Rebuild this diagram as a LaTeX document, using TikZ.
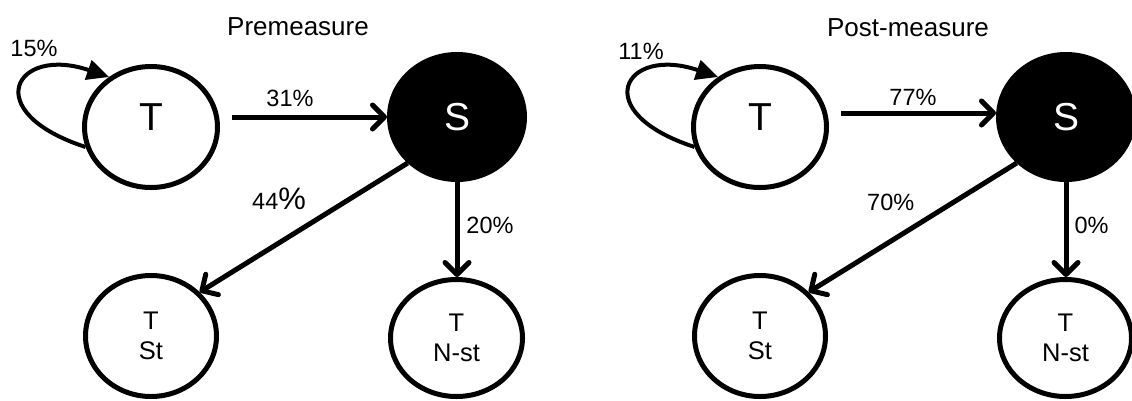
\documentclass[tikz,border=0pt]{standalone}
\usepackage{fontspec}
\setmainfont{Liberation Sans}
\usetikzlibrary{shapes.geometric,arrows.meta}
\begin{document}
\begin{tikzpicture}[x=1pt,y=-1pt,
  state/.style={ellipse,draw=black,line width=5pt,inner sep=0pt,fill=white},
  tnode/.style={state,minimum width=133pt,minimum height=121pt},
  snode/.style={state,fill=black,text=white,minimum width=135pt,minimum height=125pt,font=\fontsize{39}{41}\selectfont},
  stnode/.style={state,minimum width=131pt,minimum height=121pt,align=center,font=\fontsize{25.5}{30}\selectfont},
  nstnode/.style={state,minimum width=132pt,minimum height=117pt,align=center,font=\fontsize{25.5}{30}\selectfont},
  bigtxt/.style={inner sep=0pt,font=\fontsize{39}{41}\selectfont},
  lbl/.style={inner sep=0pt,font=\fontsize{23.5}{26}\selectfont},
  ttl/.style={inner sep=0pt,font=\fontsize{26}{28}\selectfont},
  arr/.style={line width=5pt,-{Straight Barb[length=12pt,width=24pt,line cap=round,line join=round]}},
  selfarr/.style={line width=4pt,-{Triangle[length=22pt,width=20pt]}}
]
\useasboundingbox (0,0) rectangle (1132,400);

% ---------- Premeasure ----------
\node[ttl] (t1) at (298,27) {Premeasure};
\node[tnode] (T1) at (151,127) {};
\node[bigtxt] (T1t) at (151,117) {T};
\node[snode] (S1) at (457,117) {S};
\node[stnode] (St1) at (151,336) {T\\St};
\node[nstnode] (N1) at (456.5,338) {T\\N-st};

\draw[selfarr] (T1.197) .. controls (-22,112) and (15,45) .. (T1.130);
\draw[arr] ([xshift=12pt]T1.east |- S1.west) -- (S1.west);
\draw[arr] (S1.223) -- (St1.42);
\draw[arr] (S1.south) -- (S1.south |- N1.north);

\node[lbl] (l15) at (34,48) {15\%};
\node[lbl] (l31) at (290,98) {31\%};
\node[lbl,anchor=base west] (l44) at (252,209) {44{\fontsize{31}{33}\selectfont\%}};
\node[lbl] (l20) at (490,225) {20\%};

% ---------- Post-measure ----------
\node[ttl] (t2) at (908,28) {Post-measure};
\begin{scope}[xshift=609pt]
\node[tnode] (T2) at (151,127) {};
\node[bigtxt] (T2t) at (151,117) {T};
\node[snode] (S2) at (457,117) {S};
\node[stnode] (St2) at (151,336) {T\\St};
\node[nstnode] (N2) at (456.5,338) {T\\N-st};
\coordinate (S2in) at ([yshift=4pt]S2.west);
\draw[selfarr] (T2.197) .. controls (-22,112) and (15,45) .. (T2.130);
\draw[arr] ([xshift=12pt]T2.east |- S2in) -- (S2in);
\draw[arr] (S2.223) -- (St2.42);
\draw[arr] (S2.south) -- (S2.south |- N2.north);
\end{scope}

\node[lbl] (l11) at (641,51) {11\%};
\node[lbl] (l77) at (913,97) {77\%};
\node[lbl,anchor=base west] (l70) at (867,210) {70\%};
\node[lbl] (l0) at (1091.5,225) {0\%};
\end{tikzpicture}
\end{document}
